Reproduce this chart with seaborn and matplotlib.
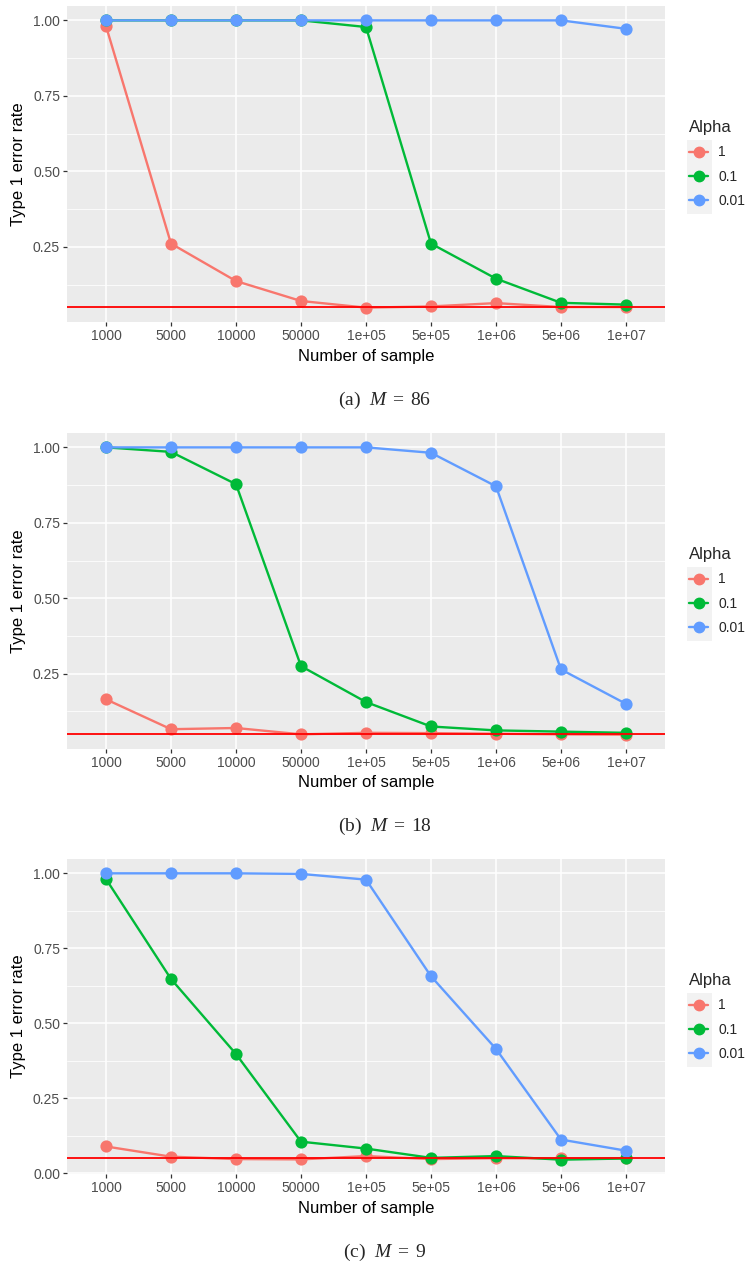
import pandas as pd
import matplotlib
matplotlib.use("Agg")
import matplotlib.pyplot as plt
import seaborn as sns
from matplotlib.lines import Line2D
from matplotlib.patches import Rectangle
from matplotlib.ticker import FixedLocator

# ---- data ----
sample_labels = ["1000", "5000", "10000", "50000", "1e+05",
                 "5e+05", "1e+06", "5e+06", "1e+07"]
alpha_levels = ["1", "0.1", "0.01"]
alpha_colors = ["#F8766D", "#00BA38", "#619CFF"]
nominal_level = 0.05

# (a) M = 86
m86_alpha1 = [0.981, 0.261, 0.137, 0.071, 0.049, 0.053, 0.064, 0.051, 0.051]
m86_alpha01 = [1.000, 1.000, 1.000, 1.000, 0.978, 0.261, 0.145, 0.065, 0.059]
m86_alpha001 = [1.000, 1.000, 1.000, 1.000, 1.000, 1.000, 1.000, 1.000, 0.972]

# (b) M = 18
m18_alpha1 = [0.165, 0.066, 0.070, 0.049, 0.054, 0.053, 0.051, 0.049, 0.048]
m18_alpha01 = [1.000, 0.985, 0.878, 0.275, 0.156, 0.075, 0.062, 0.058, 0.054]
m18_alpha001 = [1.000, 1.000, 1.000, 1.000, 1.000, 0.982, 0.871, 0.264, 0.150]

# (c) M = 9
m9_alpha1 = [0.090, 0.056, 0.048, 0.047, 0.058, 0.048, 0.051, 0.050, 0.051]
m9_alpha01 = [0.981, 0.648, 0.398, 0.106, 0.083, 0.052, 0.058, 0.046, 0.050]
m9_alpha001 = [1.000, 1.000, 1.000, 0.998, 0.979, 0.657, 0.415, 0.113, 0.076]

panels = [
    ("(a)", "86", [m86_alpha1, m86_alpha01, m86_alpha001]),
    ("(b)", "18", [m18_alpha1, m18_alpha01, m18_alpha001]),
    ("(c)", "9", [m9_alpha1, m9_alpha01, m9_alpha001]),
]

W, H = 748, 1267

sns.set_theme(style="darkgrid")
plt.rcParams["font.family"] = ["Liberation Sans", "DejaVu Sans"]
plt.rcParams["mathtext.fontset"] = "custom"
plt.rcParams["mathtext.rm"] = "Liberation Serif"
plt.rcParams["mathtext.it"] = "Liberation Serif:italic"
plt.rcParams["axes.facecolor"] = "#EBEBEB"

fig = plt.figure(figsize=(W / 100, H / 100), dpi=100)
fig.patch.set_facecolor("white")

# pixel layout of each panel (top, bottom) and caption baseline
panel_tops = [6, 433, 859]
panel_bottoms = [322, 749, 1174]
caption_y = [405, 831, 1257]
left_px, right_px = 67, 665


def fx(px):
    return px / W


def fy(px):
    return 1 - px / H


for (tag, m_val, series), top, bot, cap in zip(panels, panel_tops, panel_bottoms, caption_y):
    ax = fig.add_axes([fx(left_px), fy(bot), fx(right_px - left_px), (bot - top) / H])

    rows = []
    for level, vals in zip(alpha_levels, series):
        for lab, v in zip(sample_labels, vals):
            rows.append({"n": lab, "rate": v, "Alpha": level})
    df = pd.DataFrame(rows)

    sns.pointplot(data=df, x="n", y="rate", hue="Alpha",
                  order=sample_labels, hue_order=alpha_levels,
                  palette=alpha_colors, errorbar=None, markers="o",
                  linewidth=1.7, markersize=7.5, legend=False, ax=ax)
    ax.axhline(nominal_level, color="red", lw=1.3, zorder=10)

    # ggplot-like expansion of the y range
    all_vals = [v for s in series for v in s] + [nominal_level]
    lo, hi = min(all_vals), max(all_vals)
    pad = 0.05 * (hi - lo)
    ax.set_ylim(lo - pad, hi + pad)
    ax.set_xlim(-0.6, len(sample_labels) - 0.4)

    ax.yaxis.set_major_locator(FixedLocator([0, 0.25, 0.5, 0.75, 1.0]))
    ax.yaxis.set_minor_locator(FixedLocator([0.125, 0.375, 0.625, 0.875]))
    ax.set_yticklabels(["0.00", "0.25", "0.50", "0.75", "1.00"])
    ax.grid(which="major", color="white", lw=1.1)
    ax.grid(which="minor", axis="y", color="white", lw=0.55)
    ax.set_axisbelow(True)
    for sp in ax.spines.values():
        sp.set_visible(False)
    ax.tick_params(which="major", length=3, width=0.9, color="#333333",
                   labelcolor="#4D4D4D", labelsize=10, pad=2, bottom=True, left=True)
    ax.tick_params(which="minor", length=0)

    ax.set_xlabel("Number of sample", fontsize=12, color="black", labelpad=4)
    ax.set_ylabel("Type 1 error rate", fontsize=12, color="black", labelpad=5)

    # legend on the right, with the grey key column as in ggplot
    handles = [Line2D([0], [0], color=c, lw=1.7, marker="o", markersize=7.5)
               for c in alpha_colors]
    ax.legend(handles, alpha_levels, title="Alpha", loc="upper left",
              bbox_to_anchor=(fx(689), fy(top + 114)), bbox_transform=fig.transFigure,
              frameon=False, fontsize=10, title_fontsize=12, alignment="left",
              handlelength=1.4, handletextpad=0.7, labelspacing=0.75,
              borderaxespad=0, borderpad=0)
    fig.add_artist(Rectangle((fx(687), fy(top + 208)), fx(25), 74 / H,
                             transform=fig.transFigure, facecolor="#F2F2F2",
                             edgecolor="none", zorder=-1))

    fig.text(fx(385), fy(cap), tag + r"  $M\;=\;$" + m_val, ha="center", va="baseline",
             fontsize=14, family="Liberation Serif")

fig.savefig("out.png", dpi=100)
